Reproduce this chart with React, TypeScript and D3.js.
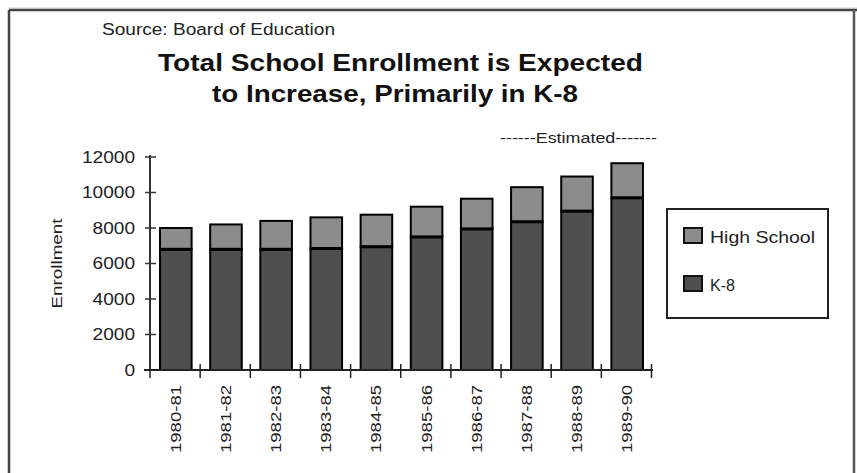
import React from "react";
import * as d3 from "d3";

const categories = ["1980-81", "1981-82", "1982-83", "1983-84", "1984-85", "1985-86", "1986-87", "1987-88", "1988-89", "1989-90"];
const k8 = [6800, 6800, 6800, 6850, 6950, 7500, 7950, 8350, 8950, 9700];
const highSchool = [1200, 1400, 1600, 1750, 1800, 1700, 1700, 1950, 1950, 1950];
const yTicks = [0, 2000, 4000, 6000, 8000, 10000, 12000];
const seriesNames = ["High School", "K-8"];
const colors = { k8: "#4f4f4f", hs: "#8c8c8c" };

const FONT = "Liberation Sans, Arial, Helvetica, sans-serif";

export default function App() {
  const W = 857, H = 473;
  const x = d3.scaleBand<string>().domain(categories).range([150, 653]).paddingInner(0.37).paddingOuter(0.2);
  const y = d3.scaleLinear().domain([0, 12000]).range([370, 157]);
  const bw = x.bandwidth();

  const stacked = categories.map((c, i) => ({ c, k: k8[i], h: highSchool[i] }));
  const boundaries = d3.range(categories.length + 1).map((i) => 150 + i * x.step());

  return (
    <svg width={W} height={H} style={{ position: "absolute", left: 0, top: 0, background: "#fff" }} fontFamily={FONT}>
      {/* frame */}
      <line x1={8} x2={857} y1={8} y2={8} stroke="#d0d0d0" strokeWidth={1} />
      <line x1={9} x2={857} y1={10} y2={10} stroke="#444" strokeWidth={2.5} />
      <line x1={9} x2={9} y1={10} y2={473} stroke="#444" strokeWidth={2.5} />
      <line x1={854} x2={854} y1={10} y2={473} stroke="#555" strokeWidth={2.5} />

      {/* source */}
      <text x={102} y={35} fontSize={16} fill="#222" textLength={233} lengthAdjust="spacingAndGlyphs">Source:  Board of Education</text>

      {/* title */}
      <text x={158} y={71} fontSize={24} fontWeight="bold" fill="#111" textLength={485} lengthAdjust="spacingAndGlyphs">Total School Enrollment is Expected</text>
      <text x={212} y={102} fontSize={24} fontWeight="bold" fill="#111" textLength={366} lengthAdjust="spacingAndGlyphs">to Increase, Primarily in K-8</text>

      {/* estimated */}
      <text x={500} y={143} fontSize={14} fill="#222" textLength={157} lengthAdjust="spacingAndGlyphs">------Estimated-------</text>

      {/* y label */}
      <text transform={`translate(62,${(y(0) + y(12000)) / 2}) rotate(-90)`} textAnchor="middle" fontSize={15} fill="#222" textLength={90} lengthAdjust="spacingAndGlyphs">Enrollment</text>

      {/* bars */}
      {stacked.map((d) => (
        <g key={d.c}>
          <rect x={x(d.c)} y={y(d.k)} width={bw} height={y(0) - y(d.k)} fill={colors.k8} stroke="#000" strokeWidth={2} />
          <rect x={x(d.c)} y={y(d.k + d.h)} width={bw} height={y(d.k) - y(d.k + d.h)} fill={colors.hs} stroke="#000" strokeWidth={2} />
          <line x1={x(d.c)} x2={(x(d.c) as number) + bw} y1={y(d.k)} y2={y(d.k)} stroke="#000" strokeWidth={3} />
        </g>
      ))}

      {/* y axis */}
      <line x1={150} x2={150} y1={y(12000) - 2} y2={y(0)} stroke="#333" strokeWidth={2} />
      {yTicks.map((t) => (
        <g key={t}>
          <line x1={145} x2={156} y1={y(t)} y2={y(t)} stroke="#333" strokeWidth={1.5} />
          <text x={135} y={y(t)} dy="0.36em" textAnchor="end" fontSize={16} fill="#222" textLength={String(t).length * 10.6} lengthAdjust="spacingAndGlyphs">{t}</text>
        </g>
      ))}

      {/* x axis */}
      <line x1={144} x2={653} y1={y(0)} y2={y(0)} stroke="#222" strokeWidth={2} />
      {boundaries.map((bx, i) => (
        <line key={i} x1={bx} x2={bx} y1={i === 0 ? y(0) : y(0) - 6} y2={y(0) + 8} stroke="#222" strokeWidth={1.5} />
      ))}
      {categories.map((c) => (
        <text key={c} transform={`translate(${(x(c) as number) + bw / 2 + 5},385) rotate(-90)`} textAnchor="end" fontSize={15} fill="#222" textLength={68} lengthAdjust="spacingAndGlyphs">{c}</text>
      ))}

      {/* legend */}
      <rect x={667} y={209} width={161} height={109} fill="#fff" stroke="#222" strokeWidth={2} />
      <rect x={684} y={228} width={18} height={15} fill={colors.hs} stroke="#111" strokeWidth={2} />
      <text x={710} y={243} fontSize={16} fill="#222" textLength={105} lengthAdjust="spacingAndGlyphs">{seriesNames[0]}</text>
      <rect x={684} y={276} width={18} height={15} fill={colors.k8} stroke="#111" strokeWidth={2} />
      <text x={710} y={291} fontSize={16} fill="#222" textLength={25} lengthAdjust="spacingAndGlyphs">{seriesNames[1]}</text>
    </svg>
  );
}
